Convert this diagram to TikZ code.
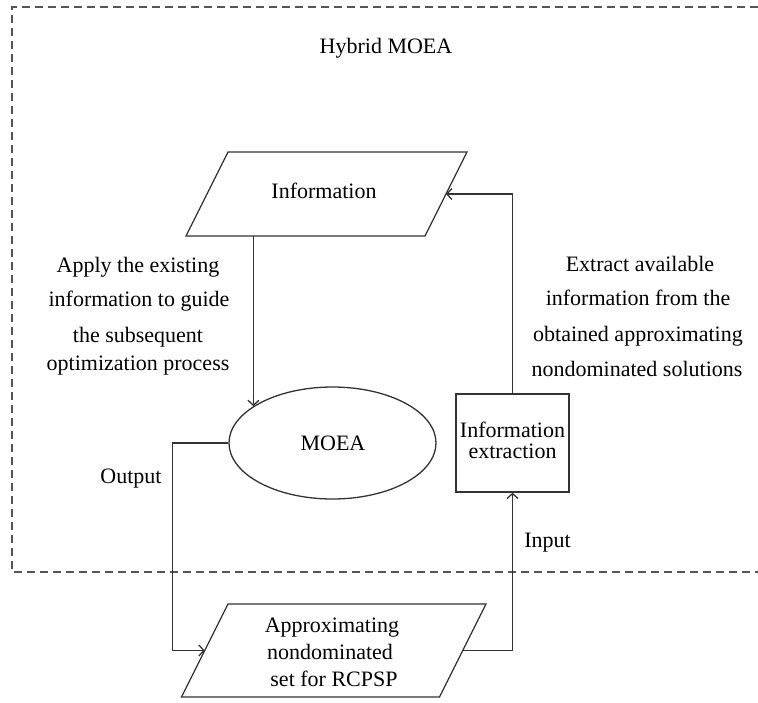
\documentclass[tikz,border=0pt]{standalone}
\usepackage{fontspec}
\setmainfont{Liberation Serif}
\usetikzlibrary{shapes.geometric,arrows.meta,calc}
\definecolor{ln}{HTML}{333333}
\definecolor{dsh}{HTML}{555555}
\begin{document}
\begin{tikzpicture}[x=1pt,y=-1pt,
  lbl/.style={font=\fontsize{22}{27}\selectfont, text=black, anchor=base, inner sep=0pt},
  shp/.style={draw=ln, line width=1.3pt, inner sep=0pt},
  outl/.style={draw=ln, line width=1.3pt, line join=miter},
  arr/.style={draw=ln, line width=1.3pt, -{Straight Barb[length=5pt,width=11pt,line width=1.3pt]}},
  hold/.style={inner sep=0pt, outer sep=0pt},
]
\useasboundingbox (0,0) rectangle (758,702);
% dashed frame
\draw[dsh, dash pattern=on 8pt off 5pt, line width=1.3pt] (758,7) -- (12,7) -- (12,572) -- (758,572);

% shapes
\node[hold, minimum width=239pt, minimum height=84pt] (info) at (326.5,194) {};
\draw[outl] ($(info.north west)+(21,0)$) -- ($(info.north east)+(21,0)$)
  -- ($(info.south east)+(-21,0)$) -- ($(info.south west)+(-21,0)$) -- cycle;
\node[shp, ellipse, minimum width=207pt, minimum height=112pt] (mo) at (332.5,443) {};
\node[shp, minimum width=113pt, minimum height=98pt] (ie) at (512.5,443) {};
\node[hold, minimum width=258pt, minimum height=93pt] (ap) at (333.75,650.5) {};
\draw[outl] ($(ap.north west)+(23.25,0)$) -- ($(ap.north east)+(23.25,0)$)
  -- ($(ap.south east)+(-23.25,0)$) -- ($(ap.south west)+(-23.25,0)$) -- cycle;

% texts
\node[lbl] (title) at (386,53) {Hybrid MOEA};
\node[lbl] (tinfo) at (324,198) {Information};
\node[lbl] (tmo) at (333,450) {MOEA};
\node[lbl] (tie1) at (512.5,437) {Information};
\node[lbl] (tie2) at (512.5,458) {extraction};
\node[lbl] (tap1) at (332,632) {Approximating};
\node[lbl] (tap2) at (330,659) {nondominated};
\node[lbl] (tap3) at (334,686) {set for RCPSP};
\node[lbl] (tin) at (547.5,547) {Input};
\node[lbl] (tout) at (131,483) {Output};
\node[lbl] (l1) at (138,272) {Apply the existing};
\node[lbl] (l2) at (139,306) {information to guide};
\node[lbl] (l3) at (138,342) {the subsequent};
\node[lbl] (l4) at (138,370) {optimization process};
\node[lbl] (r1) at (640,271) {Extract available};
\node[lbl] (r2) at (638,305) {information from the};
\node[lbl] (r3) at (638,341) {obtained approximating};
\node[lbl] (r4) at (637,376) {nondominated solutions};

% connectors
\draw[arr] (mo.155 |- info.south) -- (mo.155);
\draw[arr] (mo.west) -- ++(-56,0) |- (ap.west);
\draw[arr] (ap.east) -- (ap.east -| ie.south) -- (ie.south);
\draw[arr] (ie.north) |- (info.east);
\end{tikzpicture}
\end{document}
